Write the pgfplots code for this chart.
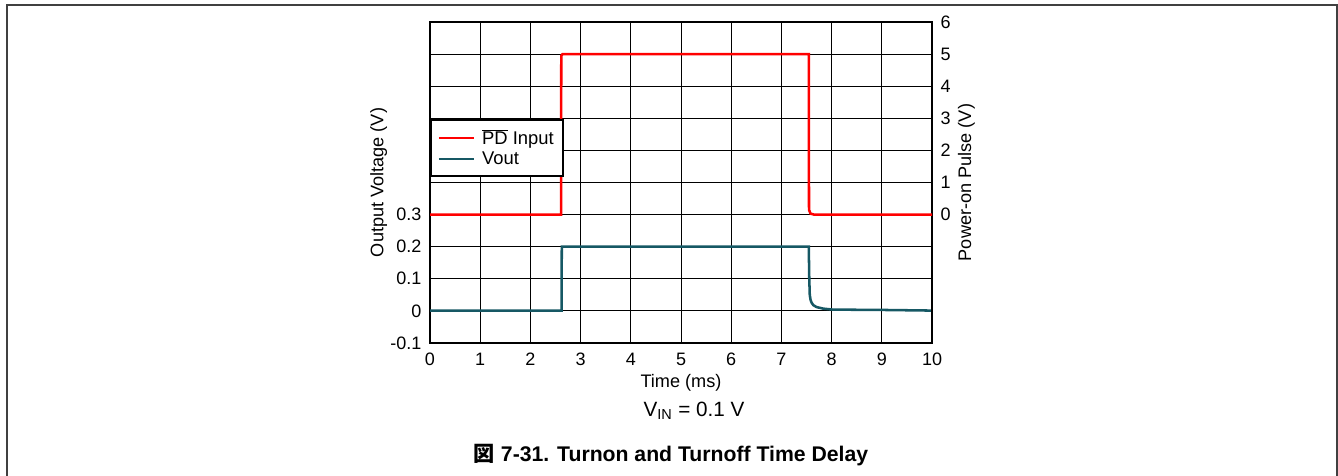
\documentclass[border=0pt]{standalone}
\usepackage{pgfplots}
\pgfplotsset{compat=1.18}
\usepackage{fontspec}
\setmainfont{Liberation Sans}
\newfontfamily\cjk{Noto Sans CJK JP}
\definecolor{vteal}{RGB}{22,88,100}
\definecolor{pdred}{RGB}{255,0,0}

\begin{document}
\begin{tikzpicture}
\pgfplotsset{
 every axis/.append style={
  scale only axis, width=376.5pt, height=240.75pt,
  at={(322.5pt,99pt)}, anchor=south west,
  xmin=0, xmax=10,
  major tick length=0pt,
  tick label style={font=\fontsize{13.5}{15}\selectfont},
  xticklabel style={yshift=-4pt},
  label style={font=\fontsize{13.6}{15}\selectfont},
  axis line style={line width=2.1pt},
  /pgf/number format/assume math mode=true,
 }
}
\begin{axis}[
 ymin=-0.1, ymax=0.9,
 xtick={0,...,10},
 ytick={-0.1,0,0.1,0.2,0.3,0.4,0.5,0.6,0.7,0.8,0.9},
 yticklabels={-0.1,0,0.1,0.2,0.3,{},{},{},{},{},{}},
 yticklabel style={xshift=-3pt},
 grid=major,
 major grid style={black, line width=0.6pt},
 xlabel={Time (ms)},
 xlabel style={yshift=0.8pt},
 ylabel={Output Voltage (V)},
 ylabel shift=-4.5pt,
]
\addplot[vteal, line width=1.9pt] coordinates {
(0,0.001) (2.62,0.001) (2.625,0.2) (7.545,0.2) (7.555,0.1) (7.565,0.05)
(7.58,0.035) (7.6,0.026) (7.635,0.018) (7.7,0.012) (7.835,0.007)
(8.03,0.004) (9,0.003) (10,0.001)
};
\end{axis}
\begin{axis}[
 ymin=-4, ymax=6,
 axis y line*=right, axis x line=none,
 ytick={0,...,6},
 yticklabel style={xshift=3pt},
 ylabel={Power-on Pulse (V)},
 ylabel shift=-1.5pt,
 legend image code/.code={\draw[#1] (0pt,0pt) -- (26pt,0pt);},
 legend style={at={(0,0.698)}, anchor=north west, draw=black, line width=1.4pt,
   fill=white, font=\fontsize{13.8}{16}\selectfont, cells={anchor=west},
   inner xsep=5pt, inner ysep=5pt,
   /tikz/every odd column/.append style={column sep=3.5pt}},
]
\addplot[pdred, line width=1.9pt] coordinates {
(0,0) (2.61,0) (2.615,4.95) (2.64,5) (7.545,5) (7.55,0.15) (7.58,0.03) (7.65,0) (10,0)
};
\addlegendentry{$\overline{\hbox{PD}}$ Input}
\addlegendimage{vteal, line width=1.9pt}
\addlegendentry{Vout}
\end{axis}
\node[font=\fontsize{15.5}{18}\selectfont] at (520.5pt,48pt) {V\textsubscript{IN} = 0.1 V};
\node[font=\fontsize{15.9}{18}\selectfont\bfseries] at (503.25pt,15pt) {{\cjk 図} 7-31. Turnon and Turnoff Time Delay};
\draw[line width=1.5pt, black!75] (5.25pt,-20pt) -- (5.25pt,352.5pt) -- (1002.4pt,352.5pt) -- (1002.4pt,-20pt);
\pgfresetboundingbox
\useasboundingbox (0,0) rectangle (1003.5pt,356.25pt);
\end{tikzpicture}
\end{document}
